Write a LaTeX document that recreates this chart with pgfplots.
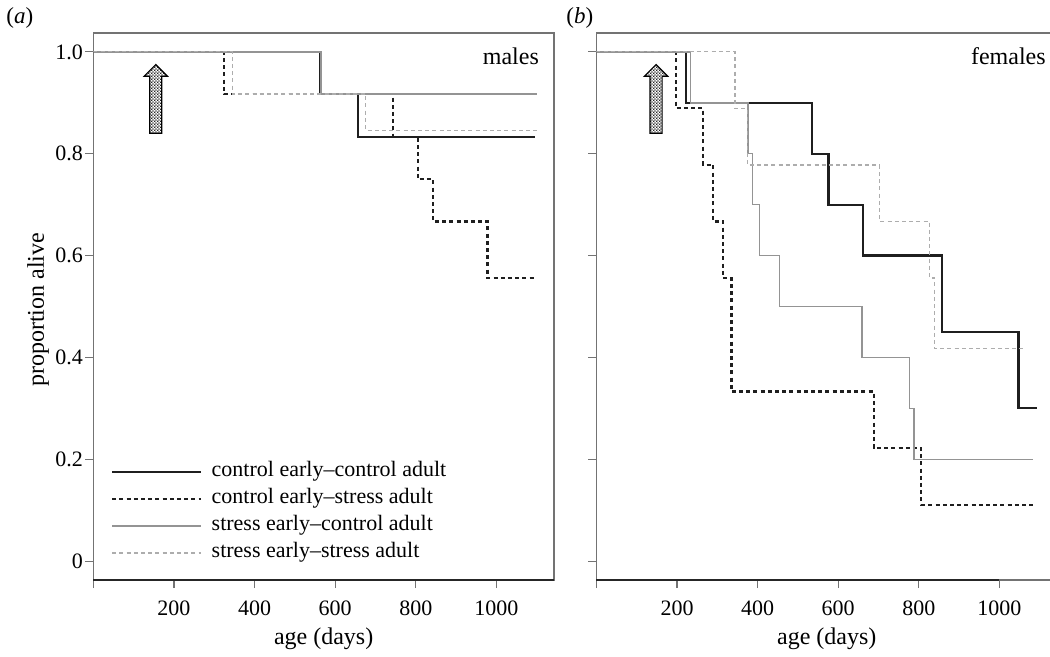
\documentclass[border=0pt]{standalone}
\usepackage{pgfplots}
\pgfplotsset{compat=1.18}
\usepackage{fontspec}
\setmainfont{Liberation Serif}
\usetikzlibrary{patterns.meta}

% fine checkerboard for the arrows
\tikzdeclarepattern{
  name=finecheck,
  type=uncolored,
  bottom left={(0pt,0pt)},
  top right={(1.4pt,1.4pt)},
  tile size={(1.4pt,1.4pt)},
  code={
    \fill (0pt,0pt) rectangle (0.7pt,0.7pt);
    \fill (0.7pt,0.7pt) rectangle (1.4pt,1.4pt);
  }
}

\pgfplotsset{
  surv/.style={
    scale only axis, width=230.35pt, height=273.5pt,
    xmin=0, xmax=1143, ymin=-0.037, ymax=1.037,
    axis line style={draw=black!55, line width=0.6pt},
    tick style={draw=black!55, line width=0.6pt},
    tick align=outside, major tick length=4pt,
    xtick pos=left, ytick pos=left,
    xtick={0,200,400,600,800,1000}, xticklabels={,200,400,600,800,1000},
    ytick={0,0.2,0.4,0.6,0.8,1},
    tick label style={font=\fontsize{11}{13}\selectfont},
    xticklabel style={yshift=-3pt},
    yticklabel style={inner xsep=1pt},
    label style={font=\fontsize{12}{14}\selectfont},
    xlabel style={yshift=1pt},
    /pgf/number format/assume math mode=true,
    clip mode=individual,
    legend image code/.code={\draw[#1] (0pt,0pt) -- (44.6pt,0pt);},
  },
  ccline/.style={const plot, no marks, color=black!88, line width=1.1pt},
  csline/.style={const plot, no marks, color=black!88, line width=1.1pt, dash pattern=on 2pt off 1.6pt},
  scline/.style={const plot, no marks, color=black!42, line width=0.75pt},
  ssline/.style={const plot, no marks, color=black!32, line width=0.65pt, dash pattern=on 2pt off 1.6pt},
}

\begin{document}
\begin{tikzpicture}
\path[use as bounding box] (0pt,-328.5pt) rectangle (525pt,0pt);
\node[anchor=west, inner sep=0pt, font=\fontsize{11.5}{14}\selectfont] at (3pt,-9pt) {(\textit{a})};
\node[anchor=west, inner sep=0pt, font=\fontsize{11.5}{14}\selectfont] at (283pt,-9pt) {(\textit{b})};
\node[rotate=90, font=\fontsize{12}{14}\selectfont] at (19pt,-155pt) {proportion alive};

% (a) males
\begin{axis}[surv, at={(46.65pt,-290pt)}, anchor=south west,
  yticklabels={0,0.2,0.4,0.6,0.8,1.0},
  xlabel={age (days)},
  legend cell align=left,
  legend style={at={(0.0378,0.223)}, anchor=north west, draw=none, fill=none,
    inner sep=0pt, row sep=0pt, column sep=4.6pt,
    nodes={inner sep=0pt, text height=9pt, text depth=4.5pt, font=\fontsize{11}{13}\selectfont}},
]
\addplot[ccline] coordinates {(0,1) (562,0.917) (657,0.833) (1096,0.833)};
\addplot[csline] coordinates {(0,1) (324,0.917) (744,0.833) (805,0.75) (842,0.667) (978,0.556) (1100,0.556)};
\addplot[scline] coordinates {(0,1) (565,0.917) (1100,0.917)};
\addplot[ssline] coordinates {(0,1) (345,0.917) (676,0.846) (1100,0.846)};
\legend{control early–control adult, control early–stress adult, stress early–control adult, stress early–stress adult}
\draw[black!85, line width=1.1pt] (rel axis cs:0,0) -- (rel axis cs:1,0);
\draw[black, line width=0.6pt, pattern=finecheck, pattern color=black!85]
  (axis cs:140,0.840) -- (axis cs:140,0.952) -- (axis cs:126,0.952) -- (axis cs:155,0.975)
  -- (axis cs:184,0.952) -- (axis cs:170,0.952) -- (axis cs:170,0.840) -- cycle;
\node[anchor=base east, inner sep=0pt, font=\fontsize{12}{14}\selectfont] at (rel axis cs:0.968,0.943) {males};
\end{axis}

% (b) females
\begin{axis}[surv, at={(298.2pt,-290pt)}, anchor=south west,
  yticklabels={},
  xlabel={age (days)},
]
\addplot[ccline] coordinates {(0,1) (222,0.9) (534,0.8) (576,0.7) (661,0.6) (858,0.45) (1047,0.3) (1092,0.3)};
\addplot[csline] coordinates {(0,1) (198,0.889) (265,0.778) (290,0.667) (314,0.556) (335,0.333) (688,0.222) (806,0.111) (1082,0.111)};
\addplot[scline] coordinates {(0,1) (233,0.9) (376,0.8) (387,0.7) (405,0.6) (454,0.5) (659,0.4) (777,0.3) (788,0.2) (1082,0.2)};
\addplot[ssline] coordinates {(0,1) (344,0.889) (374,0.778) (702,0.667) (827,0.556) (839,0.417) (1067,0.417)};
\draw[black!85, line width=1.1pt] (axis cs:0,-0.037) -- (axis cs:1000,-0.037);
\draw[black, line width=0.6pt, pattern=finecheck, pattern color=black!85]
  (axis cs:133,0.840) -- (axis cs:133,0.952) -- (axis cs:119,0.952) -- (axis cs:148,0.975)
  -- (axis cs:177,0.952) -- (axis cs:163,0.952) -- (axis cs:163,0.840) -- cycle;
\node[anchor=base east, inner sep=0pt, font=\fontsize{12}{14}\selectfont] at (rel axis cs:0.976,0.943) {females};
\end{axis}
\end{tikzpicture}
\end{document}
